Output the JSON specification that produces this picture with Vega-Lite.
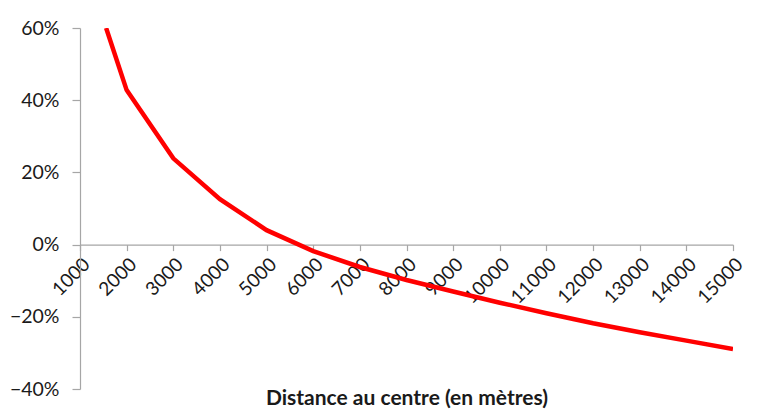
{
  "$schema": "https://vega.github.io/schema/vega-lite/v6.json",
  "width": 653,
  "height": 361,
  "autosize": {"type": "none"},
  "padding": {"left": 80, "top": 28, "right": 25, "bottom": 23},
  "background": "white",
  "config": {"view": {"stroke": null}, "font": "Lato"},
  "data": {"values": [
    {"distance": 1560, "variation": 0.60},
    {"distance": 2000, "variation": 0.428},
    {"distance": 3000, "variation": 0.239},
    {"distance": 4000, "variation": 0.126},
    {"distance": 5000, "variation": 0.040},
    {"distance": 6000, "variation": -0.018},
    {"distance": 7000, "variation": -0.062},
    {"distance": 8000, "variation": -0.098},
    {"distance": 9000, "variation": -0.130},
    {"distance": 10000, "variation": -0.161},
    {"distance": 11000, "variation": -0.190},
    {"distance": 12000, "variation": -0.218},
    {"distance": 13000, "variation": -0.243},
    {"distance": 14000, "variation": -0.266},
    {"distance": 15000, "variation": -0.289}
  ]},
  "mark": {"type": "line", "color": "#ff0000", "strokeWidth": 4.5, "clip": true},
  "encoding": {
    "x": {
      "field": "distance",
      "type": "quantitative",
      "scale": {"domain": [1000, 15000], "nice": false, "zero": false},
      "axis": {
        "title": "Distance au centre (en mètres)",
        "titleFontSize": 21,
        "titleFontWeight": "bold",
        "titleColor": "#1a1a1a",
        "titleBaseline": "middle",
        "titleY": 154,
        "offset": -144.4,
        "values": [1000, 2000, 3000, 4000, 5000, 6000, 7000, 8000, 9000, 10000, 11000, 12000, 13000, 14000, 15000],
        "format": "d",
        "labelAngle": -45,
        "labelFontSize": 19,
        "labelColor": "#1a1a1a",
        "labelPadding": 4,
        "labelOverlap": false,
        "labelFlush": false,
        "grid": false,
        "domainColor": "#a6a6a6",
        "tickColor": "#a6a6a6",
        "tickSize": 6,
        "domainWidth": 1.2,
        "tickWidth": 1.2
      }
    },
    "y": {
      "field": "variation",
      "type": "quantitative",
      "scale": {"domain": [-0.4, 0.6], "nice": false},
      "axis": {
        "title": null,
        "values": [-0.4, -0.2, 0, 0.2, 0.4, 0.6],
        "format": ".0%",
        "labelFontSize": 19.5,
        "labelColor": "#1a1a1a",
        "labelPadding": 13,
        "grid": false,
        "domainColor": "#a6a6a6",
        "tickColor": "#a6a6a6",
        "tickSize": 8,
        "domainWidth": 1.2,
        "tickWidth": 1.2
      }
    }
  }
}
